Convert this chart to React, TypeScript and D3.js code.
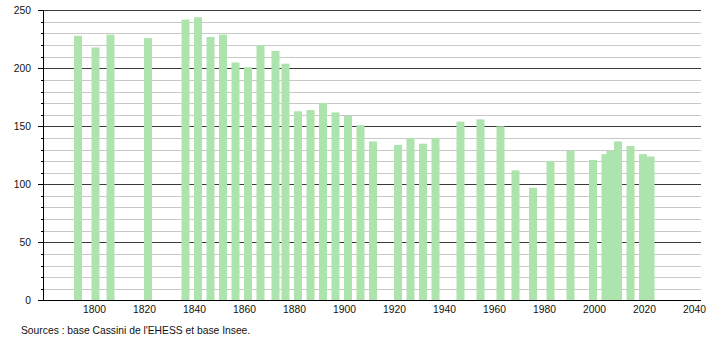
import React from "react";
import * as d3 from "d3";

const years = [1793, 1800, 1806, 1821, 1836, 1841, 1846, 1851, 1856, 1861, 1866, 1872, 1876, 1881, 1886, 1891, 1896, 1901, 1906, 1911, 1921, 1926, 1931, 1936, 1946, 1954, 1962, 1968, 1975, 1982, 1990, 1999, 2004, 2006, 2009, 2014, 2019, 2022];
const population = [228, 218, 229, 226, 242, 244, 227, 229, 205, 201, 220, 215, 204, 163, 164, 170, 162, 159, 151, 137, 134, 140, 135, 140, 154, 156, 150, 112, 97, 120, 129, 121, 126, 129, 137, 133, 126, 124];
const xTicks = [1800, 1820, 1840, 1860, 1880, 1900, 1920, 1940, 1960, 1980, 2000, 2020, 2040];
const yMajorTicks = [0, 50, 100, 150, 200, 250];
const yMinorTicks = d3.range(0, 251, 10);
const sourceText = "Sources : base Cassini de l'EHESS et base Insee.";

export default function App() {
  const W = 710, H = 340;
  const left = 43, right = 701, top = 10.3, bottom = 300.3;
  const x = d3.scaleLinear().domain([1779.4, 2042.6]).range([left, right]);
  const y = d3.scaleLinear().domain([0, 250]).range([bottom, top]);
  const barW = 8;
  const font = "'Liberation Sans', Arial, Helvetica, sans-serif";
  return (
    <svg width={W} height={H} style={{ position: "absolute", left: 0, top: 0, background: "#fff" }} fontFamily={font}>
      {yMinorTicks.filter((v) => v % 50 !== 0).map((v) => (
        <g key={"m" + v}>
          <line x1={left} x2={right} y1={Math.round(y(v)) + 0.5} y2={Math.round(y(v)) + 0.5} stroke="#c8c8c8" strokeWidth={1} />
          <line x1={left - 2} x2={left} y1={Math.round(y(v)) + 0.5} y2={Math.round(y(v)) + 0.5} stroke="#000" strokeWidth={1} />
        </g>
      ))}
      {yMajorTicks.map((v) => (
        <g key={"M" + v}>
          <line x1={left} x2={right} y1={Math.round(y(v)) + 0.5} y2={Math.round(y(v)) + 0.5} stroke="#3a3a3a" strokeWidth={1} />
          <line x1={left - 5} x2={left} y1={Math.round(y(v)) + 0.5} y2={Math.round(y(v)) + 0.5} stroke="#000" strokeWidth={1} />
          <text x={31} y={y(v)} dy="0.35em" textAnchor="end" fontSize={10.3} fill="#111">{v}</text>
        </g>
      ))}
      {years.map((yr, i) => (
        <rect key={yr} x={x(yr) + 1 - barW / 2} y={y(population[i])} width={barW} height={bottom - y(population[i])} fill="#ade4ad" />
      ))}
      <line x1={left + 0.5} x2={left + 0.5} y1={top} y2={bottom} stroke="#000" strokeWidth={1} />
      <line x1={left} x2={right} y1={Math.round(bottom) + 0.5} y2={Math.round(bottom) + 0.5} stroke="#000" strokeWidth={1} />
      {xTicks.map((t) => (
        <text key={t} x={x(t)} y={313} textAnchor="middle" fontSize={10.3} fill="#111">{t}</text>
      ))}
      <text x={21} y={334} fontSize={10.3} fill="#111">{sourceText}</text>
    </svg>
  );
}
